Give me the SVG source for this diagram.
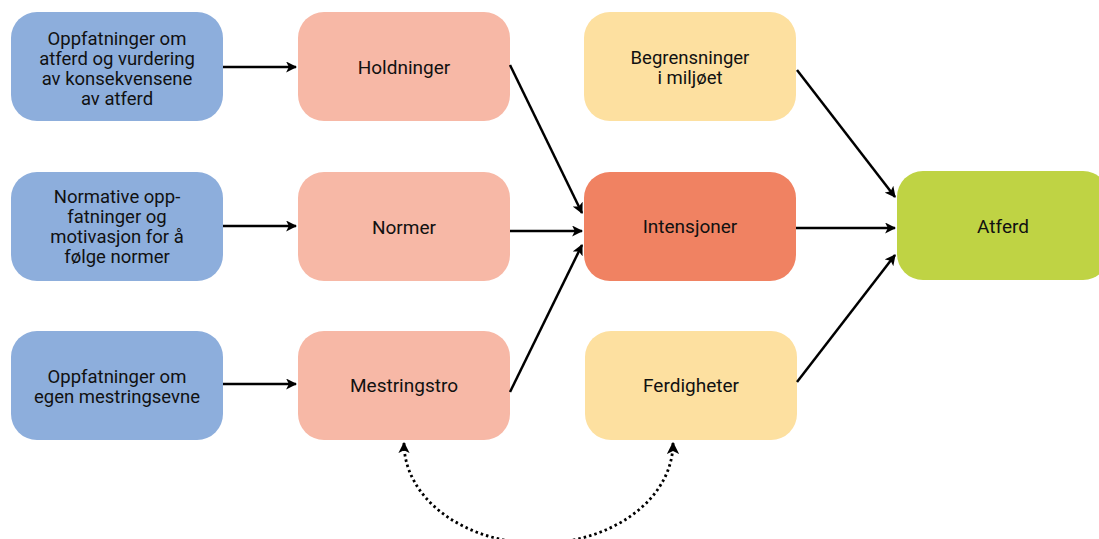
<svg xmlns="http://www.w3.org/2000/svg" width="1099" height="539" viewBox="0 0 1099 539">
<style>
.box{stroke:none}
.blue{fill:#8DAEDC}
.pink{fill:#F7B8A6}
.red{fill:#F08262}
.yellow{fill:#FDE0A0}
.green{fill:#BFD344}
text{font-family:Roboto,"Liberation Sans",sans-serif;font-size:19px;fill:#111;text-anchor:middle}
.ml{font-size:18.5px}
.edge{stroke:#000;stroke-width:2.5;fill:none;marker-end:url(#ah)}
.dot{stroke:#000;stroke-width:2.8;fill:none;stroke-dasharray:2.5 3;marker-start:url(#ah2);marker-end:url(#ah)}
</style>
<defs>
<marker id="ah" viewBox="0 0 10 10" refX="9" refY="5" markerWidth="4.4" markerHeight="4.4" orient="auto" markerUnits="strokeWidth">
<path d="M0,0 L10,5 L0,10 L2.5,5 Z" fill="#000"/>
</marker>
<marker id="ah2" viewBox="0 0 10 10" refX="9" refY="5" markerWidth="4" markerHeight="4" orient="auto-start-reverse" markerUnits="strokeWidth">
<path d="M0,0 L10,5 L0,10 L2.5,5 Z" fill="#000"/>
</marker>
</defs>
<rect width="1099" height="539" fill="#fff"/>
<g id="n-oppfatninger-atferd"><rect class="box blue" x="11" y="12" width="212" height="109" rx="26"/>
<text class="ml" x="117" y="45">Oppfatninger om</text><text class="ml" x="117" y="65">atferd og vurdering</text><text class="ml" x="117" y="85">av konsekvensene</text><text class="ml" x="117" y="105">av atferd</text></g>
<g id="n-normative"><rect class="box blue" x="11" y="172" width="212" height="109" rx="26"/>
<text class="ml" x="117" y="203">Normative opp-</text><text class="ml" x="117" y="223">fatninger og</text><text class="ml" x="117" y="243">motivasjon for å</text><text class="ml" x="117" y="263">følge normer</text></g>
<g id="n-mestringsevne"><rect class="box blue" x="11" y="331" width="212" height="109" rx="26"/>
<text class="ml" x="117" y="383">Oppfatninger om</text><text class="ml" x="117" y="403">egen mestringsevne</text></g>
<g id="n-holdninger"><rect class="box pink" x="298" y="12" width="212" height="109" rx="26"/>
<text x="404" y="74">Holdninger</text></g>
<g id="n-normer"><rect class="box pink" x="298" y="172" width="212" height="109" rx="26"/>
<text x="404" y="234">Normer</text></g>
<g id="n-mestringstro"><rect class="box pink" x="298" y="331" width="212" height="109" rx="26"/>
<text x="404" y="392">Mestringstro</text></g>
<g id="n-begrensninger"><rect class="box yellow" x="584" y="12" width="212" height="109" rx="26"/>
<text class="ml" x="690" y="64">Begrensninger</text><text class="ml" x="690" y="84">i miljøet</text></g>
<g id="n-intensjoner"><rect class="box red" x="584" y="172" width="212" height="109" rx="26"/>
<text x="690" y="233">Intensjoner</text></g>
<g id="n-ferdigheter"><rect class="box yellow" x="585" y="331" width="212" height="109" rx="26"/>
<text x="691" y="392">Ferdigheter</text></g>
<g id="n-atferd"><rect class="box green" x="897" y="171" width="212" height="109" rx="26"/>
<text x="1003" y="233">Atferd</text></g>
<g id="connectors">
<path class="edge" d="M223,67 L296,67"/>
<path class="edge" d="M223,226 L296,226"/>
<path class="edge" d="M223,384 L296,384"/>
<path class="edge" d="M510,65 L582,213"/>
<path class="edge" d="M510,231 L582,231"/>
<path class="edge" d="M510,392 L582,245"/>
<path class="edge" d="M796,228 L895,228"/>
<path class="edge" d="M797,70 L895,197"/>
<path class="edge" d="M797,382 L895,255"/>
<path class="dot" d="M404,443 A134 100 0 0 0 673,443"/>
</g>
</svg>
